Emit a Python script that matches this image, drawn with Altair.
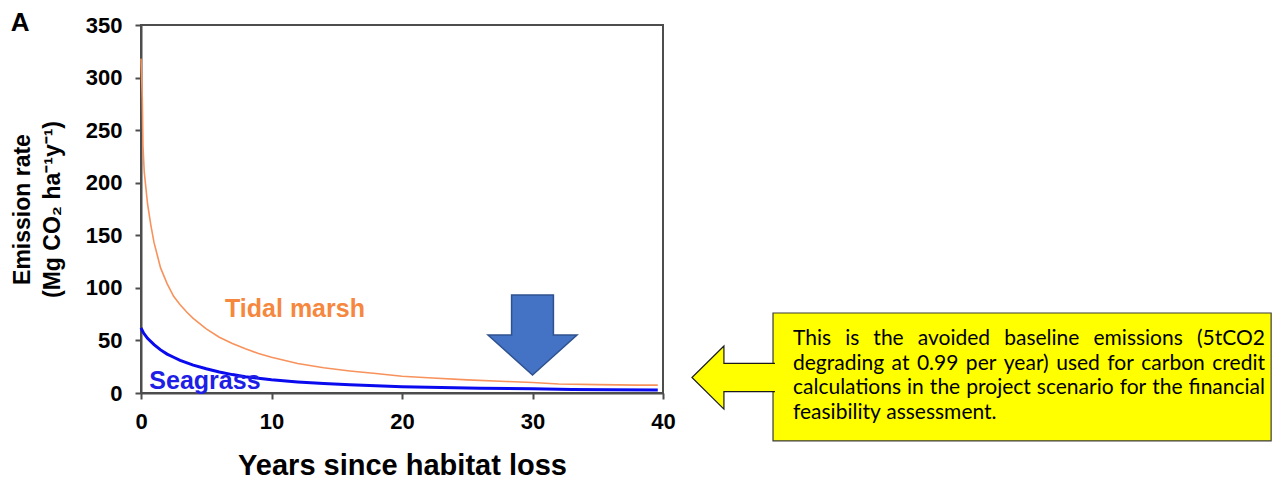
import glob
import altair as alt
import pandas as pd

# ---------------- data ----------------
tidal_years = [0, 0.05, 0.1, 0.15, 0.25, 0.5, 0.75, 1, 1.5, 2, 2.5, 3, 3.5, 4, 5, 6, 7, 8, 9,
               10, 12, 14, 16, 18, 20, 22, 25, 28, 30, 32, 35, 38, 39.6]
tidal_rate = [318, 300, 280, 235, 210, 180, 160, 143, 119, 104, 92, 84, 77, 71, 61, 53, 47, 42, 37.5,
              34, 28, 24, 21, 18.5, 16, 14.5, 12.5, 11, 10, 8.5, 8, 7.5, 7.5]

sea_years = [0, 0.2, 0.5, 1, 1.5, 2, 2.5, 3, 4, 5, 6, 7, 8, 9, 10, 12, 14, 16, 18, 20,
             23, 26, 30, 33, 36, 39.6]
sea_rate = [62, 57, 52, 46, 41, 37, 34, 31, 26.5, 23, 20, 17.5, 15.5, 14, 12.5, 10.5, 9, 7.8, 6.8, 6,
            5.2, 4.6, 4, 3.3, 3, 2.8]

x_ticks = [0, 10, 20, 30, 40]
y_ticks = [0, 50, 100, 150, 200, 250, 300, 350]

series_names = ["Tidal marsh", "Seagrass"]
x_title = "Years since habitat loss"
y_title = ["Emission rate", "(Mg CO\u2082 ha\u207b\u00b9y\u207b\u00b9)"]
panel_letter = "A"
callout_lines = [
    "This is the avoided baseline emissions (5tCO2",
    "degrading at 0.99 per year) used for carbon credit",
    "calculations in the project scenario for the financial",
    "feasibility assessment.",
]

# ---------------- layout ----------------
PLOT_W, PLOT_H = 522, 368
X_DOM, Y_DOM = [0, 40], [0, 350]
PX_PER_X = PLOT_W / (X_DOM[1] - X_DOM[0])

# annotation anchors (data units)
label_x = [11.8, 4.9]
label_y = [72.3, 3.6]
letter_xy = (-9.27, 344.5)
down_arrow_xy = (30.0, 55.2)
left_arrow_xy = (45.4, 14.7)
box_x = (48.43, 86.6)
box_y = (76.1, -45.6)
text_x = 49.96
text_y = [50.9, 27.6, 4.3, -19.0]
TEXT_BLOCK_PX = 472          # justified line width in pixels

# ---------------- styles ----------------
ORANGE_LINE = "#F8925C"
ORANGE_TEXT = "#F5883E"
BLUE_LINE = "#0A0AEE"
BLUE_TEXT = "#1E1EE6"
AXIS_COL = "#4d4d4d"
FONT = "Liberation Sans"
BOX_FONT = "Lato"
BOX_FONT_SIZE = 21


# ---------- word widths for justified callout text ----------
def make_measure():
    try:
        from PIL import ImageFont
        paths = sorted(glob.glob("/usr/share/fonts/**/Lato-Regular.ttf", recursive=True))
        if not paths:
            paths = sorted(glob.glob("/usr/share/fonts/**/Lato-Reg*.ttf", recursive=True))
        f = ImageFont.truetype(paths[0], BOX_FONT_SIZE)
        return lambda s: f.getlength(s)
    except Exception:
        pass
    try:
        from fontTools.ttLib import TTFont
        paths = sorted(glob.glob("/usr/share/fonts/**/Lato-Regular.ttf", recursive=True))
        tt = TTFont(paths[0])
        cmap = tt.getBestCmap()
        hmtx = tt["hmtx"]
        upm = tt["head"].unitsPerEm

        def m(s):
            return sum(hmtx[cmap[ord(ch)]][0] for ch in s if ord(ch) in cmap) * BOX_FONT_SIZE / upm
        return m
    except Exception:
        pass
    return lambda s: len(s) * 0.50 * BOX_FONT_SIZE


measure = make_measure()

rows = []
for i, line in enumerate(callout_lines):
    words = line.split(" ")
    last = i == len(callout_lines) - 1
    widths = [measure(w) for w in words]
    if last or len(words) < 2:
        gap = measure(" ")
    else:
        gap = (TEXT_BLOCK_PX - sum(widths)) / (len(words) - 1)
    pos = 0.0
    for w, wd in zip(words, widths):
        rows.append({"x": text_x + pos / PX_PER_X, "y": text_y[i], "t": w})
        pos += wd + gap
text_df = pd.DataFrame(rows)

xs = alt.Scale(domain=X_DOM, nice=False, zero=False)
ys = alt.Scale(domain=Y_DOM, nice=False, zero=False)

xaxis = alt.Axis(values=x_ticks, title=x_title, grid=False, format="d",
                 labelFont=FONT, labelFontSize=22, labelFontWeight="bold", labelColor="#000",
                 labelPadding=12, tickSize=6, tickWidth=2, tickColor=AXIS_COL,
                 domainColor=AXIS_COL, domainWidth=2, labelFlush=False,
                 titleFont=FONT, titleFontSize=29, titleFontWeight="bold", titleColor="#000",
                 titleBaseline="alphabetic", titleY=81)
yaxis = alt.Axis(values=y_ticks, title=y_title, grid=False, format="d",
                 labelFont=FONT, labelFontSize=22, labelFontWeight="bold", labelColor="#000",
                 labelPadding=13, tickSize=6, tickWidth=2, tickColor=AXIS_COL,
                 domainColor=AXIS_COL, domainWidth=2, labelFlush=False,
                 titleFont=FONT, titleFontSize=23, titleFontWeight="bold", titleColor="#000",
                 titleAngle=270, titleBaseline="middle", titleLineHeight=30,
                 titleX=-119, titleY=184)


def X(field="x"):
    return alt.X(f"{field}:Q", scale=xs, axis=xaxis)


def Y(field="y"):
    return alt.Y(f"{field}:Q", scale=ys, axis=yaxis)


tidal_df = pd.DataFrame({"x": tidal_years, "y": tidal_rate})
sea_df = pd.DataFrame({"x": sea_years, "y": sea_rate})

tidal = alt.Chart(tidal_df).mark_line(color=ORANGE_LINE, strokeWidth=1.6).encode(x=X(), y=Y())
sea = alt.Chart(sea_df).mark_line(color=BLUE_LINE, strokeWidth=3).encode(x=X(), y=Y())

labels_df = pd.DataFrame({"x": label_x, "y": label_y, "t": series_names,
                          "c": [ORANGE_TEXT, BLUE_TEXT]})
labels = alt.Chart(labels_df).mark_text(font=FONT, fontSize=25, fontWeight="bold",
                                        align="center", baseline="alphabetic").encode(
    x=X(), y=Y(), text="t:N", color=alt.Color("c:N", scale=None))

letter = alt.Chart(pd.DataFrame({"x": [letter_xy[0]], "y": [letter_xy[1]], "t": [panel_letter]})).mark_text(
    font=FONT, fontSize=26, fontWeight="bold", align="center", baseline="alphabetic", color="#000"
).encode(x=X(), y=Y(), text="t:N")

down_path = "M-0.47,-0.9 L0.47,-0.9 L0.47,0 L1,0 L0,0.9 L-1,0 L-0.47,0 Z"
down_arrow = alt.Chart(pd.DataFrame({"x": [down_arrow_xy[0]], "y": [down_arrow_xy[1]]})).mark_point(
    shape=down_path, size=89 * 89, filled=True, fill="#4472C4", stroke="#2F528F",
    strokeWidth=1.5, opacity=1
).encode(x=X(), y=Y())

box = alt.Chart(pd.DataFrame({"x": [box_x[0]], "x2": [box_x[1]], "y": [box_y[0]], "y2": [box_y[1]]})).mark_rect(
    fill="#FFFF00", stroke="#3a3a3a", strokeWidth=1.2
).encode(x=X(), x2="x2:Q", y=Y(), y2="y2:Q")

left_path = "M1,-0.34 L-0.23,-0.34 L-0.23,-0.76 L-1,0 L-0.23,0.76 L-0.23,0.34 L1,0.34"
left_arrow = alt.Chart(pd.DataFrame({"x": [left_arrow_xy[0]], "y": [left_arrow_xy[1]]})).mark_point(
    shape=left_path, size=83 * 83, filled=True, fill="#FFFF00", stroke="#1a1a1a",
    strokeWidth=1.2, opacity=1
).encode(x=X(), y=Y())

callout = alt.Chart(text_df).mark_text(font=BOX_FONT, fontSize=BOX_FONT_SIZE, align="left",
                                       baseline="middle", color="#000").encode(
    x=X(), y=Y(), text="t:N")

chart = alt.layer(tidal, sea, labels, letter, down_arrow, box, left_arrow, callout).properties(
    width=PLOT_W, height=PLOT_H,
    autosize=alt.AutoSizeParams(type="none"),
    padding={"left": 133, "top": 17, "right": 610, "bottom": 86},
    background="white",
).configure_view(stroke=AXIS_COL, strokeWidth=2)

chart.save("out.html", embed_options={"renderer": "svg", "actions": False})
